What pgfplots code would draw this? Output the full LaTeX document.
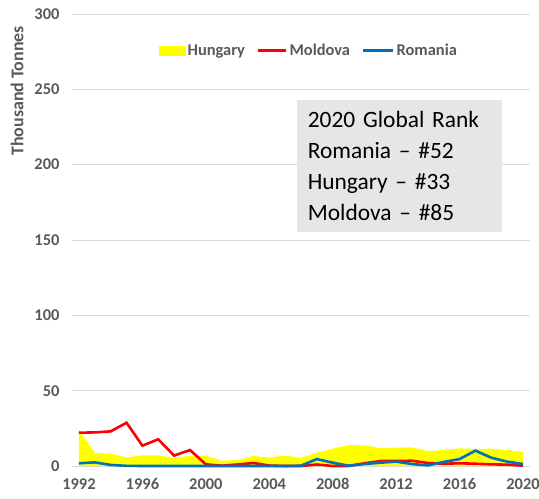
\documentclass[border=0pt]{standalone}
\usepackage{pgfplots}
\pgfplotsset{compat=1.18}
\usepackage{fontspec}
\setmainfont{Carlito}
\definecolor{tickgray}{HTML}{595959}
\definecolor{gridgray}{HTML}{D9D9D9}
\definecolor{myyellow}{HTML}{FFFF00}
\definecolor{myred}{HTML}{FF0000}
\definecolor{myblue}{HTML}{0070C0}
\definecolor{boxgray}{HTML}{E6E6E6}
\begin{document}
\begin{tikzpicture}
\begin{axis}[
  scale only axis,
  width=458bp, height=452bp,
  xmin=1991.56, xmax=2020.44,
  ymin=0, ymax=300,
  xtick={1992,1996,...,2020},
  ytick={0,50,...,300},
  x tick label style={/pgf/number format/1000 sep={}},
  /pgf/number format/assume math mode=true,
  tick label style={font=\fontsize{16.5}{16.5}\selectfont\bfseries, text=tickgray},
  yticklabel style={xshift=-9bp},
  xticklabel style={yshift=-9bp},
  major tick length=0pt,
  axis line style={draw=none},
  ymajorgrids,
  grid style={gridgray, line width=0.8bp},
  ylabel={Thousand Tonnes},
  ylabel style={at={(axis description cs:-0.12,0.83)}, anchor=center, rotate=0, font=\fontsize{18}{18}\selectfont\bfseries, text=tickgray},
  clip=false,
  legend columns=3,
  legend style={at={(axis description cs:0.517,0.919)}, anchor=center, draw=none, fill=none,
    font=\fontsize{16.5}{16.5}\selectfont\bfseries, text=tickgray,
    /tikz/every even column/.append style={column sep=10bp}},
  legend cell align=left,
]
\addplot[fill=myyellow, draw=none,
  legend image code/.code={\fill[myyellow] (0bp,-5bp) rectangle (27bp,5bp);}]
coordinates {
(1992,24.3)(1993,8.6)(1994,8.2)(1995,5.7)(1996,7.1)(1997,7.1)(1998,5.3)(1999,6.6)
(2000,6.9)(2001,3.5)(2002,4.0)(2003,6.6)(2004,5.7)(2005,6.9)(2006,5.3)(2007,8.8)
(2008,11.5)(2009,13.9)(2010,13.7)(2011,11.9)(2012,12.2)(2013,12.4)(2014,9.9)
(2015,10.6)(2016,11.7)(2017,11.3)(2018,11.5)(2019,10.6)(2020,9.5)
} \closedcycle;
\addlegendentry{Hungary}
\addplot[myred, line width=2.6bp, mark=none,
  legend image code/.code={\draw[myred, line width=2.6bp] (0bp,0bp) -- (28bp,0bp);}]
coordinates {
(1992,22.1)(1993,22.3)(1994,23.0)(1995,28.7)(1996,13.5)(1997,17.7)(1998,6.9)(1999,10.6)
(2000,1.1)(2001,0.2)(2002,1.0)(2003,2.0)(2004,0.3)(2005,0.0)(2006,0.0)(2007,1.0)
(2008,0.0)(2009,0.0)(2010,1.8)(2011,3.3)(2012,3.3)(2013,3.5)(2014,2.0)
(2015,1.5)(2016,1.8)(2017,1.5)(2018,1.1)(2019,0.9)(2020,0.2)
};
\addlegendentry{Moldova}
\addplot[myblue, line width=2.6bp, mark=none,
  legend image code/.code={\draw[myblue, line width=2.6bp] (0bp,0bp) -- (30bp,0bp);}]
coordinates {
(1992,1.8)(1993,2.4)(1994,0.7)(1995,0.1)(1996,0.0)(1997,0.0)(1998,0.0)(1999,0.0)
(2000,0.0)(2001,0.0)(2002,0.0)(2003,0.0)(2004,0.0)(2005,0.0)(2006,0.2)(2007,4.6)
(2008,2.2)(2009,0.2)(2010,1.3)(2011,2.2)(2012,2.9)(2013,1.3)(2014,0.4)
(2015,2.7)(2016,4.6)(2017,10.2)(2018,5.5)(2019,2.9)(2020,1.3)
};
\addlegendentry{Romania}
\node[fill=boxgray, anchor=center, text width=183bp, inner xsep=11bp, inner ysep=6bp,
  minimum height=132bp, align=left, font=\fontsize{23.5}{31}\selectfont]
  at (axis cs:2012.2,199) {2020 Global Rank\\Romania -- \#52\\Hungary -- \#33\\Moldova -- \#85};
\end{axis}
\pgfresetboundingbox
\path (-72bp,-33bp) rectangle (467bp,466bp);
\end{tikzpicture}
\end{document}
